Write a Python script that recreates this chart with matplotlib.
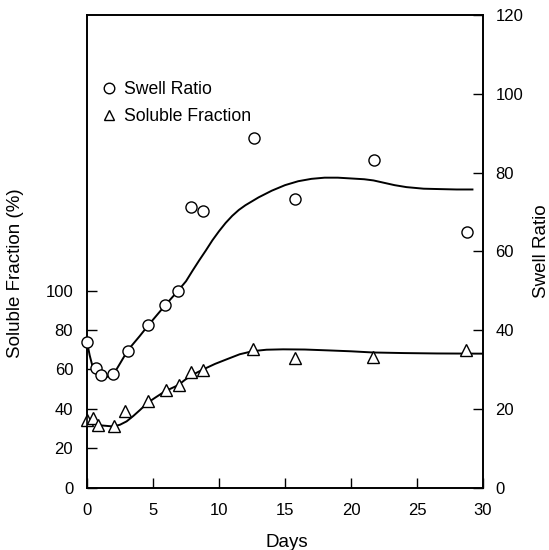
import numpy as np
import matplotlib
matplotlib.use('Agg')
import matplotlib.pyplot as plt

plt.rcParams['font.family'] = ['Liberation Sans', 'DejaVu Sans']

# measured points
swell_days = [0, 0.66, 1.07, 2.0, 3.08, 4.64, 5.91, 6.92, 7.9, 8.75, 12.64, 15.77, 21.73, 28.76]
swell = [37.0, 30.4, 28.5, 28.9, 34.8, 41.3, 46.3, 50.0, 71.2, 70.3, 88.9, 73.3, 83.1, 64.8]

sol_days = [0, 0.48, 0.86, 2.05, 2.88, 4.62, 5.99, 6.97, 7.9, 8.8, 12.56, 15.77, 21.68, 28.7]
sol = [34.5, 35.3, 32.0, 31.0, 38.7, 43.8, 49.4, 52.1, 58.7, 59.6, 70.3, 66.0, 66.4, 70.0]

# fitted curves
swell_fit_days = [0, 0.2, 0.4, 0.7, 1.0, 1.5, 2.0, 2.5, 3.1, 4.0, 4.64, 5.9, 6.9, 7.5, 8.0,
                  8.5, 9.0, 9.5, 10.0, 10.5, 11.0, 11.5, 12.0, 13.0, 14.0, 15.0, 16.0, 17.0,
                  18.0, 19.0, 20.0, 21.0, 21.7, 22.5, 23.3, 24.2, 25.5, 26.7, 28.0, 29.2]
swell_fit = [37.0, 33.6, 31.0, 29.0, 28.2, 28.1, 28.7, 31.5, 34.9, 38.5, 41.2, 46.2, 50.0, 52.4, 55.1,
             57.7, 60.2, 62.8, 65.1, 67.2, 69.0, 70.5, 71.7, 73.7, 75.4, 76.8, 77.8, 78.4,
             78.7, 78.7, 78.5, 78.3, 78.0, 77.4, 76.8, 76.3, 75.9, 75.8, 75.7, 75.7]

sol_fit_days = [0, 0.5, 1.0, 2.0, 2.5, 3.0, 3.5, 4.0, 4.64, 5.2, 5.91, 6.91, 7.4, 7.92, 8.8,
                9.7, 10.57, 11.57, 12.58, 13.6, 14.85, 16.5, 18.5, 20.0, 21.65, 24.0, 26.5, 30.0]
sol_fit = [34.0, 32.5, 31.6, 31.0, 31.9, 33.6, 36.3, 39.3, 43.3, 45.8, 48.9, 52.0, 54.6, 57.0, 60.0,
           62.8, 65.1, 67.7, 69.3, 70.0, 70.2, 70.1, 69.6, 69.2, 68.6, 68.3, 68.1, 68.0]

fig = plt.figure(figsize=(5.49, 5.5), dpi=100)
ax = fig.add_axes([0.1585, 0.1136, 0.7213, 0.859])
ax2 = ax.twinx()

mk = dict(linestyle='none', markerfacecolor='white', markeredgecolor='black',
          markeredgewidth=1.0, clip_on=False, zorder=5)

ax.plot(sol_fit_days, sol_fit, color='black', lw=1.4)
tri, = ax.plot(sol_days, sol, marker='^', markersize=8, label='Soluble Fraction', **mk)

ax2.plot(swell_fit_days, swell_fit, color='black', lw=1.4)
circ, = ax2.plot(swell_days, swell, marker='o', markersize=8, label='Swell Ratio', **mk)

ax.set_xlim(0, 30)
ax.set_ylim(0, 240)
ax2.set_ylim(0, 120)
ax.set_xticks(np.arange(0, 31, 5))
ax.set_yticks([0, 20, 40, 60, 80, 100])
ax2.set_yticks(np.arange(0, 121, 20))

ax.tick_params(axis='both', direction='in', length=7, width=1, labelsize=12, pad=10)
ax.tick_params(axis='x', pad=11)
ax2.tick_params(axis='y', direction='in', length=7, width=1, labelsize=12, pad=9)

for a in (ax, ax2):
    for s in a.spines.values():
        s.set_linewidth(1.2)

ax.set_xlabel('Days', fontsize=13.5)
ax.xaxis.set_label_coords(0.505, -0.098)
ax.set_ylabel('Soluble Fraction (%)', fontsize=13.5)
ax.yaxis.set_label_coords(-0.158, 0.454)
ax2.set_ylabel('Swell Ratio', fontsize=13.5)
ax2.yaxis.set_label_coords(1.126, 0.5)

leg = ax2.legend(handles=[circ, tri], loc='upper left', bbox_to_anchor=(0.0326, 0.86),
                 frameon=False, fontsize=12.7, handlelength=1.0, handletextpad=0.39,
                 labelspacing=0.56, borderaxespad=0, borderpad=0, markerscale=0.95)

fig.savefig('out.png', dpi=100)
